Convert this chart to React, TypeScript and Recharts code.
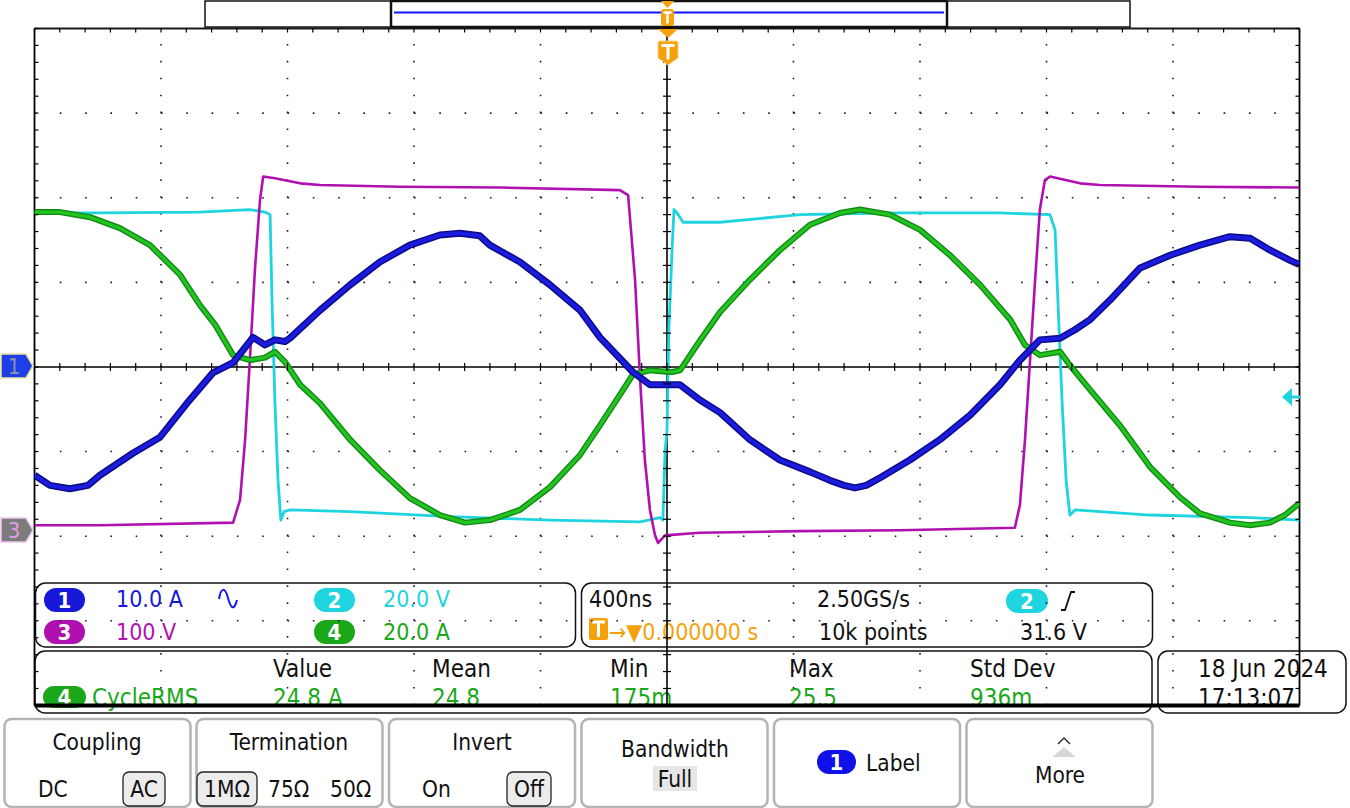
import React from 'react';
import { LineChart, Line, XAxis, YAxis, ReferenceLine, ReferenceDot } from 'recharts';

const W = 1350;
const H = 808;
const FONT = "'DejaVu Sans Condensed','Liberation Sans Narrow','DejaVu Sans',sans-serif";

// Time in ns (400 ns/div, trigger at 0); amplitude in screen divisions.
const ch1T = [-2000, -1951, -1888, -1831, -1793, -1689, -1603, -1518, -1436, -1372, -1309, -1271, -1240, -1208, -1192, -1097, -1002, -908, -813, -718, -655, -592, -560, -465, -370, -275, -212, -108, -54, -6, 41, 104, 168, 262, 357, 452, 515, 560, 594, 630, 674, 768, 863, 958, 1053, 1116, 1179, 1243, 1290, 1338, 1401, 1496, 1591, 1685, 1780, 1844, 1907, 1970, 2000];
const ch1V = [-1.28, -1.40, -1.44, -1.40, -1.28, -1.02, -0.83, -0.43, -0.07, 0.05, 0.35, 0.26, 0.32, 0.30, 0.34, 0.67, 0.97, 1.24, 1.44, 1.56, 1.58, 1.55, 1.44, 1.24, 0.97, 0.67, 0.35, -0.06, -0.21, -0.21, -0.21, -0.39, -0.54, -0.86, -1.10, -1.24, -1.34, -1.40, -1.43, -1.40, -1.31, -1.10, -0.86, -0.57, -0.21, 0.08, 0.32, 0.34, 0.44, 0.56, 0.79, 1.17, 1.32, 1.44, 1.54, 1.52, 1.38, 1.26, 1.21];

const ch2T = [-2000, -1793, -1477, -1319, -1271, -1255, -1249, -1240, -1230, -1221, -1211, -1192, -1002, -686, -370, -85, -22, -13, -6, 0, 6, 16, 22, 32, 51, 168, 421, 737, 1053, 1211, 1227, 1236, 1249, 1262, 1274, 1290, 1527, 1844, 2000];
const ch2V = [1.82, 1.82, 1.83, 1.86, 1.83, 1.80, 0.79, -0.39, -1.34, -1.81, -1.71, -1.69, -1.71, -1.77, -1.81, -1.83, -1.78, -1.81, -1.00, -0.74, 0.44, 1.38, 1.86, 1.82, 1.71, 1.71, 1.80, 1.82, 1.82, 1.80, 1.62, 0.79, -0.39, -1.34, -1.75, -1.69, -1.75, -1.78, -1.81];

const ch3T = [-2000, -1793, -1372, -1350, -1334, -1319, -1303, -1287, -1277, -1240, -1160, -1097, -844, -528, -149, -123, -101, -85, -70, -54, -38, -28, -6, 104, 421, 737, 1100, 1116, 1132, 1148, 1164, 1179, 1195, 1211, 1306, 1369, 1685, 2000];
const ch3V = [-1.87, -1.87, -1.84, -1.57, -0.86, 0.08, 1.15, 1.97, 2.25, 2.23, 2.17, 2.15, 2.13, 2.12, 2.09, 2.03, 1.03, -0.15, -1.10, -1.69, -1.99, -2.08, -1.99, -1.96, -1.94, -1.93, -1.90, -1.63, -0.86, 0.08, 1.03, 1.86, 2.21, 2.25, 2.17, 2.15, 2.13, 2.12];

const ch4T = [-2000, -1919, -1824, -1730, -1635, -1540, -1477, -1429, -1372, -1319, -1271, -1240, -1208, -1160, -1097, -1002, -908, -813, -718, -639, -560, -465, -370, -275, -212, -149, -108, -54, -22, 16, 41, 104, 168, 262, 357, 452, 547, 610, 705, 800, 895, 990, 1085, 1132, 1179, 1243, 1274, 1338, 1432, 1527, 1622, 1685, 1780, 1844, 1907, 1954, 2000];
const ch4V = [1.83, 1.83, 1.77, 1.64, 1.44, 1.09, 0.73, 0.50, 0.14, 0.08, 0.11, 0.18, 0.06, -0.21, -0.43, -0.86, -1.22, -1.55, -1.75, -1.84, -1.81, -1.69, -1.42, -1.04, -0.69, -0.33, -0.09, -0.04, -0.05, -0.06, -0.04, 0.31, 0.65, 1.03, 1.38, 1.68, 1.82, 1.86, 1.80, 1.62, 1.32, 0.97, 0.56, 0.26, 0.14, 0.18, 0.02, -0.27, -0.69, -1.18, -1.54, -1.73, -1.84, -1.87, -1.84, -1.75, -1.61];

const timeDomain = [-2000, 2000];
const divDomain = [-4, 4];
const majorT = [-1600, -1200, -800, -400, 400, 800, 1200, 1600];
const majorV = [-3, -2, -1, 1, 2, 3];
const minorT = Array.from({ length: 51 }, (_, i) => -2000 + i * 80);
const minorV = Array.from({ length: 41 }, (_, i) => Math.round((-4 + i * 0.2) * 100) / 100);

const zip = (t: number[], v: number[]) => t.map((x, i) => ({ t: x, v: v[i] }));
const ch1 = zip(ch1T, ch1V);
const ch2 = zip(ch2T, ch2V);
const ch3 = zip(ch3T, ch3V);
const ch4 = zip(ch4T, ch4V);

const GRID = '#2a1230';

const tickV = (p: any) => <line x1={p.cx} x2={p.cx} y1={p.cy - 4} y2={p.cy + 4} stroke="#000" strokeWidth={1.2} />;
const tickH = (p: any) => <line x1={p.cx - 4} x2={p.cx + 4} y1={p.cy} y2={p.cy} stroke="#000" strokeWidth={1.2} />;
const tickL = (p: any) => <line x1={p.cx} x2={p.cx + 4} y1={p.cy} y2={p.cy} stroke="#000" strokeWidth={1.2} />;
const tickR = (p: any) => <line x1={p.cx - 4} x2={p.cx} y1={p.cy} y2={p.cy} stroke="#000" strokeWidth={1.2} />;
const tickT = (p: any) => <line x1={p.cx} x2={p.cx} y1={p.cy} y2={p.cy + 4} stroke="#000" strokeWidth={1.2} />;

const BLUE = '#1818d8';
const CYAN = '#1ed4de';
const MAG = '#b010b0';
const GREEN = '#1aa81a';
const ORANGE = '#f5a10c';

function Pill({ x, y, w = 41, h = 24, fill, label }: any) {
  return (
    <g>
      <rect x={x} y={y} width={w} height={h} rx={h / 2} fill={fill} />
      <text x={x + w / 2} y={y + h / 2 + 8} textAnchor="middle" fill="#fff" fontSize={22} fontWeight="bold" fontFamily={FONT}>{label}</text>
    </g>
  );
}

function T({ x, y, fill = '#111', size = 23, anchor = 'start', children }: any) {
  return <text x={x} y={y} fill={fill} fontSize={size} fontFamily={FONT} textAnchor={anchor}>{children}</text>;
}

function Button({ x }: any) {
  return <rect x={x} y={719} width={186} height={88} rx={7} fill="#fff" stroke="#b4b4b4" strokeWidth={2.5} />;
}

function Toggle({ x, y, w, h }: any) {
  return <rect x={x} y={y} width={w} height={h} rx={6} fill="#ececec" stroke="#222" strokeWidth={1.3} />;
}

function Background() {
  return (
    <svg width={W} height={H} style={{ position: 'absolute', left: 0, top: 0 }}>
      {/* Info panel A */}
      <rect x={35.5} y={583} width={540} height={64} rx={10} fill="none" stroke="#111" strokeWidth={1.5} />
      <Pill x={44} y={588} fill={BLUE} label="1" />
      <T x={116} y={607} fill={BLUE}>10.0 A</T>
      <path d="M219,599 C221,587 225,587 228,598 S234,611 237,600" fill="none" stroke={BLUE} strokeWidth={2} />
      <Pill x={314} y={588} fill={CYAN} label="2" />
      <T x={383} y={607} fill={CYAN}>20.0 V</T>
      <Pill x={44} y={620} fill={MAG} label="3" />
      <T x={116} y={640} fill={MAG}>100 V</T>
      <Pill x={314} y={620} fill={GREEN} label="4" />
      <T x={383} y={640} fill={GREEN}>20.0 A</T>

      {/* Info panel B */}
      <rect x={581.5} y={583} width={571} height={64} rx={10} fill="none" stroke="#111" strokeWidth={1.5} />
      <T x={589} y={607}>400ns</T>
      <T x={817} y={607}>2.50GS/s</T>
      <Pill x={1006} y={589} w={42} fill={CYAN} label="2" />
      <path d="M1061,610 h4 l6,-18 h4" fill="none" stroke="#111" strokeWidth={1.8} />
      <rect x={589} y={618} width={19} height={22} rx={2} fill={ORANGE} />
      <path d="M592,622 h13 M598.5,622 v15" stroke="#fff" strokeWidth={3} />
      <T x={609} y={640} fill={ORANGE}>→▼0.000000 s</T>
      <T x={819} y={640}>10k points</T>
      <T x={1020} y={640}>31.6 V</T>

      {/* Measurement panel C */}
      <rect x={35} y={651} width={1117} height={62} rx={10} fill="none" stroke="#111" strokeWidth={1.5} />
      <T x={273} y={677} size={24}>Value</T>
      <T x={432} y={677} size={24}>Mean</T>
      <T x={610} y={677} size={24}>Min</T>
      <T x={789} y={677} size={24}>Max</T>
      <T x={970} y={677} size={24}>Std Dev</T>
      <Pill x={43} y={686} w={43} h={22} fill={GREEN} label="4" />
      <T x={92} y={706} fill={GREEN} size={24}>CycleRMS</T>
      <T x={273} y={706} fill={GREEN} size={24}>24.8 A</T>
      <T x={432} y={706} fill={GREEN} size={24}>24.8</T>
      <T x={610} y={706} fill={GREEN} size={24}>175m</T>
      <T x={789} y={706} fill={GREEN} size={24}>25.5</T>
      <T x={970} y={706} fill={GREEN} size={24}>936m</T>

      {/* Date panel */}
      <rect x={1158} y={651} width={188} height={62} rx={10} fill="none" stroke="#111" strokeWidth={1.5} />
      <T x={1198} y={677} size={24}>18 Jun  2024</T>
      <T x={1198} y={706} size={24}>17:13:07</T>

      {/* Bottom buttons */}
      <Button x={4.5} />
      <Button x={196.5} />
      <Button x={389} />
      <Button x={581.5} />
      <Button x={774} />
      <Button x={966.5} />

      <T x={97} y={750} anchor="middle" size={22.5}>Coupling</T>
      <T x={38} y={797} size={22.5}>DC</T>
      <Toggle x={123} y={772} w={42} h={34} />
      <T x={144} y={797} anchor="middle" size={22.5}>AC</T>

      <T x={289} y={750} anchor="middle" size={22.5}>Termination</T>
      <Toggle x={197} y={772} w={60} h={34} />
      <T x={227} y={797} anchor="middle" size={22.5}>1MΩ</T>
      <T x={268} y={797} size={22.5}>75Ω</T>
      <T x={330} y={797} size={22.5}>50Ω</T>

      <T x={482} y={750} anchor="middle" size={22.5}>Invert</T>
      <T x={422} y={797} size={22.5}>On</T>
      <Toggle x={507} y={772} w={44} h={34} />
      <T x={529} y={797} anchor="middle" size={22.5}>Off</T>

      <T x={675} y={757} anchor="middle" size={22.5}>Bandwidth</T>
      <rect x={653} y={766} width={44} height={25} fill="#e6e6e6" />
      <T x={675} y={787} anchor="middle" size={22.5}>Full</T>

      <Pill x={817} y={750} w={39} h={24} fill="#1010e8" label="1" />
      <T x={866} y={771} size={22.5}>Label</T>

      <path d="M1058,744 l6,-6 l6,6" fill="none" stroke="#222" strokeWidth={1.3} />
      <path d="M1052,757 l12,-10 l12,10 z" fill="#d8d8d8" />
      <T x={1060} y={783} anchor="middle" size={22.5}>More</T>
    </svg>
  );
}

function Foreground() {
  return (
    <svg width={W} height={H} style={{ position: 'absolute', left: 0, top: 0, pointerEvents: 'none' }}>
      {/* record view bar */}
      <rect x={205} y={1} width={925} height={26} fill="#fff" stroke="#111" strokeWidth={1.5} />
      <rect x={391} y={1} width={556} height={26} fill="#fff" stroke="#111" strokeWidth={2.5} />
      <line x1={394} x2={944} y1={12.5} y2={12.5} stroke="#1414ff" strokeWidth={2} />
      {/* trigger position markers */}
      <path d="M661,1 h13 l-6.5,7 z" fill={ORANGE} />
      <rect x={661} y={9} width={13} height={17} rx={3} fill={ORANGE} />
      <path d="M663.5,12.5 h8 M667.5,12.5 v11" stroke="#fff" strokeWidth={2.5} />
      <path d="M658,29 h20 l-10,9 z" fill={ORANGE} />
      <path d="M660,41 h16 q2,0 2,2 v15 l-10,7 l-10,-7 v-15 q0,-2 2,-2 z" fill={ORANGE} stroke="#f8d080" strokeWidth={1} />
      <path d="M661.5,45.5 h13 M668,45.5 v14" stroke="#fff" strokeWidth={3} />
      {/* channel ground markers */}
      <path d="M1,354 h25 l7,12 l-7,12 h-25 z" fill="#1e3ee8" stroke="#e8e4a0" strokeWidth={1.5} />
      <text x={14} y={374} textAnchor="middle" fill="#8d92a8" fontSize={22} fontFamily={FONT}>1</text>
      <path d="M1,518 h25 l7,12 l-7,12 h-25 z" fill="#7c7c7c" stroke="#f0c4f0" strokeWidth={1.5} />
      <text x={14} y={538} textAnchor="middle" fill="#e49ce4" fontSize={22} fontFamily={FONT}>3</text>
      {/* trigger level */}
      <path d="M1282,397 l10,-9 v18 z" fill={CYAN} />
      <line x1={1291} x2={1300} y1={397} y2={397} stroke={CYAN} strokeWidth={3} />
    </svg>
  );
}

export default function App() {
  return (
    <div style={{ position: 'absolute', left: 0, top: 0, width: W, height: H, background: '#fff', overflow: 'hidden' }}>
      <Background />
      <div style={{ position: 'absolute', left: 0, top: 0 }}>
        <LineChart width={W} height={H} margin={{ top: 28.5, right: 50.5, bottom: 102.6, left: 34.5 }}>
          <XAxis type="number" dataKey="t" domain={timeDomain} allowDataOverflow hide />
          <YAxis type="number" domain={divDomain} allowDataOverflow hide />
          {majorT.map((t) => (
            <ReferenceLine key={'vx' + t} x={t} stroke={GRID} strokeWidth={1.6} strokeDasharray="1.6 15.32" />
          ))}
          {majorV.map((v) => (
            <ReferenceLine key={'hy' + v} y={v} stroke={GRID} strokeWidth={1.6} strokeDasharray="1.6 23.7" />
          ))}
          <ReferenceLine x={0} stroke="#000" strokeWidth={1.6} />
          <ReferenceLine y={0} stroke="#000" strokeWidth={1.6} />
          <ReferenceLine x={-2000} stroke="#000" strokeWidth={1.8} />
          <ReferenceLine x={2000} stroke="#000" strokeWidth={1.8} />
          <ReferenceLine y={4} stroke="#1a1a1a" strokeWidth={1.8} />
          <ReferenceLine y={-4} stroke="#000" strokeWidth={4} />
          {minorT.map((t) => (
            <ReferenceDot key={'cx' + t} x={t} y={0} shape={tickV} />
          ))}
          {minorV.map((v) => (
            <ReferenceDot key={'cy' + v} x={0} y={v} shape={tickH} />
          ))}
          {minorV.map((v) => (
            <ReferenceDot key={'lb' + v} x={-2000} y={v} shape={tickL} />
          ))}
          {minorV.map((v) => (
            <ReferenceDot key={'rb' + v} x={2000} y={v} shape={tickR} />
          ))}
          {minorT.map((t) => (
            <ReferenceDot key={'tb' + t} x={t} y={4} shape={tickT} />
          ))}
          <Line data={ch2} dataKey="v" type="linear" stroke={CYAN} strokeWidth={2.8} dot={false} isAnimationActive={false} strokeLinejoin="round" />
          <Line data={ch3} dataKey="v" type="linear" stroke={MAG} strokeWidth={2.6} dot={false} isAnimationActive={false} strokeLinejoin="round" />
          <Line data={ch4} dataKey="v" type="linear" stroke="#128a12" strokeWidth={6} dot={false} isAnimationActive={false} strokeLinejoin="round" />
          <Line data={ch4} dataKey="v" type="linear" stroke="#22c422" strokeWidth={3.2} dot={false} isAnimationActive={false} strokeLinejoin="round" />
          <Line data={ch1} dataKey="v" type="linear" stroke="#0c0c8c" strokeWidth={7} dot={false} isAnimationActive={false} strokeLinejoin="round" />
          <Line data={ch1} dataKey="v" type="linear" stroke="#1c1ce0" strokeWidth={3.8} dot={false} isAnimationActive={false} strokeLinejoin="round" />
        </LineChart>
      </div>
      <Foreground />
    </div>
  );
}
